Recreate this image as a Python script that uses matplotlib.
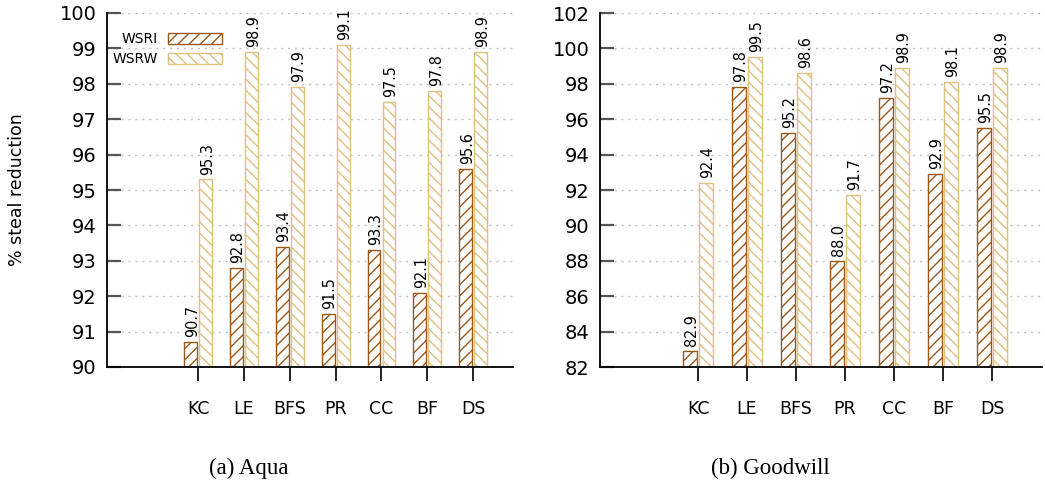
import matplotlib
matplotlib.use("Agg")
import matplotlib.pyplot as plt
import numpy as np

# Benchmarks and steal-reduction percentages
categories = ["KC", "LE", "BFS", "PR", "CC", "BF", "DS"]
series_names = ["WSRI", "WSRW"]

aqua_wsri = [90.7, 92.8, 93.4, 91.5, 93.3, 92.1, 95.6]
aqua_wsrw = [95.3, 98.9, 97.9, 99.1, 97.5, 97.8, 98.9]

goodwill_wsri = [82.9, 97.8, 95.2, 88.0, 97.2, 92.9, 95.5]
goodwill_wsrw = [92.4, 99.5, 98.6, 91.7, 98.9, 98.1, 98.9]

aqua_yticks = [90, 91, 92, 93, 94, 95, 96, 97, 98, 99, 100]
goodwill_yticks = [82, 84, 86, 88, 90, 92, 94, 96, 98, 100, 102]

captions = ["(a) Aqua", "(b) Goodwill"]

# Styling
W, H = 1045, 487
DPI = 100
C_WSRI = "#9c5818"
C_WSRW = "#e0c080"
GRID_C = "#c4c4c4"
BAR_W = 0.28
OFF = 0.165

plt.rcParams["font.family"] = ["DejaVu Sans"]
plt.rcParams["hatch.linewidth"] = 1.0

fig = plt.figure(figsize=(W / DPI, H / DPI), dpi=DPI)


def px_axes(x0, x1, y0, y1):
    return fig.add_axes([x0 / W, 1 - y1 / H, (x1 - x0) / W, (y1 - y0) / H])


def draw_panel(ax, wsri, wsrw, yticks, xlim):
    x = np.arange(len(categories))
    ax.set_axisbelow(True)
    b1 = ax.bar(x - OFF, wsri, BAR_W, bottom=0, facecolor="white",
                edgecolor=C_WSRI, hatch="///", linewidth=1.0, label=series_names[0])
    b2 = ax.bar(x + OFF, wsrw, BAR_W, bottom=0, facecolor="white",
                edgecolor=C_WSRW, hatch="\\\\\\", linewidth=1.0, label=series_names[1])
    for bars, vals in ((b1, wsri), (b2, wsrw)):
        for rect, v in zip(bars, vals):
            ax.annotate(f"{v:.1f}", xy=(rect.get_x() + rect.get_width() / 2, v),
                        xytext=(1.2, 3.5), textcoords="offset points",
                        rotation=90, ha="center", va="bottom",
                        fontsize=11.5, fontstretch="condensed", color="black")
    ax.set_ylim(yticks[0], yticks[-1])
    ax.set_xlim(*xlim)
    ax.set_yticks(yticks)
    ax.set_xticks(x)
    ax.set_xticklabels(categories)
    ax.yaxis.grid(True, color=GRID_C, linestyle=(0, (1.6, 3.4)), linewidth=1.0)
    ax.xaxis.grid(False)
    for s in ("top", "right"):
        ax.spines[s].set_visible(False)
    for s in ("left", "bottom"):
        ax.spines[s].set_linewidth(1.3)
    ax.tick_params(axis="y", direction="in", length=10, width=1.6,
                   color="#555555", labelsize=14, pad=7.5)
    ax.tick_params(axis="x", direction="out", length=10, width=1.4,
                   color="#222222", labelsize=12.5, pad=13.5)
    return b1, b2


ax1 = px_axes(107, 513, 13, 367)
ax2 = px_axes(600, 1042, 13, 367)

h1, h2 = draw_panel(ax1, aqua_wsri, aqua_wsrw, aqua_yticks, (-1.99, 6.87))
draw_panel(ax2, goodwill_wsri, goodwill_wsrw, goodwill_yticks, (-2.0, 7.02))

ax1.legend(handles=[h1, h2], labels=series_names, loc="upper left",
           bbox_to_anchor=(0.014, 0.946), frameon=False, fontsize=10,
           markerfirst=False, handlelength=3.9, handleheight=0.8,
           handletextpad=0.72, labelspacing=0.45, borderpad=0, borderaxespad=0)

fig.text(17 / W, 1 - 190 / H, "% steal reduction", rotation=90,
         ha="center", va="center", fontsize=12.5)

fig.text(249 / W, 1 - 468 / H, captions[0], ha="center", va="center",
         fontsize=16.5, family=["Liberation Serif", "DejaVu Serif"])
fig.text(770 / W, 1 - 468 / H, captions[1], ha="center", va="center",
         fontsize=16.5, family=["Liberation Serif", "DejaVu Serif"])

fig.savefig("out.png", dpi=DPI)
